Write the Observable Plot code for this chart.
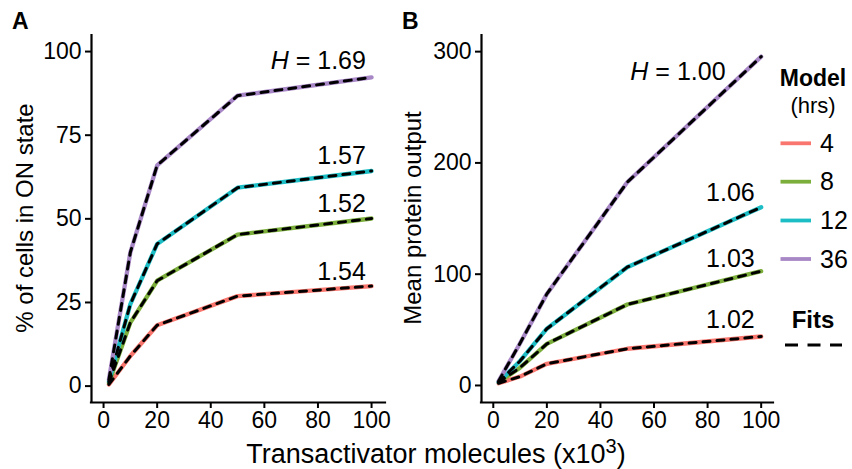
<!DOCTYPE html>
<html>
<head>
<meta charset="utf-8">
<script src="https://cdn.jsdelivr.net/npm/d3@7"></script>
<script src="https://cdn.jsdelivr.net/npm/@observablehq/plot@0.6"></script>
<style>
  html, body { margin: 0; padding: 0; background: #fff; }
  #chart { position: relative; width: 852px; height: 469px; overflow: hidden; font-family: "Liberation Sans", Arial, Helvetica, sans-serif; }
  #chart > svg, #chart > figure { position: absolute; top: 0; margin: 0; }
</style>
</head>
<body>
<div id="chart"></div>
<script>
// ---- data ----
const transactivator = [2, 10, 20, 50, 100];   // x10^3 molecules
const series = ["4", "8", "12", "36"];          // model hours
const colors = ["#F8766D", "#7CAE3C", "#1DBDC5", "#A887C6"];

// Panel A: % of cells in ON state
const onState4  = [0.5, 9, 18.2, 26.9, 29.9];
const onState8  = [1, 19, 31.5, 45.3, 50.1];
const onState12 = [1.5, 24.5, 42.5, 59.3, 64.3];
const onState36 = [2, 40, 66, 86.8, 92.3];

// Panel B: mean protein output
const protein4  = [2, 8, 19.5, 33, 44];
const protein8  = [3, 16, 37.4, 72.8, 102.7];
const protein12 = [3, 22, 51, 106.3, 160.2];
const protein36 = [4, 38, 82.3, 182.6, 295.5];

// Hill coefficients (annotations) and their anchor positions in data units
const hillA  = ["H = 1.69", "1.57", "1.52", "1.54"];
const hillAx = [97.9, 97.9, 97.9, 97.9];
const hillAy = [97.3, 68.9, 54.5, 34.1];
const hillB  = ["H = 1.00", "1.06", "1.03", "1.02"];
const hillBx = [86.7, 97.6, 97.6, 97.6];
const hillBy = [281.5, 172.8, 113.8, 59];

const xTicks  = [0, 20, 40, 60, 80, 100];
const yTicksA = [0, 25, 50, 75, 100];
const yTicksB = [0, 100, 200, 300];

// ---- build tables ----
function table(arrs) {
  const rows = [];
  arrs.forEach((vals, i) => vals.forEach((v, j) => rows.push({x: transactivator[j], y: v, series: series[i]})));
  return rows;
}
const dataA = table([onState4, onState8, onState12, onState36]);
const dataB = table([protein4, protein8, protein12, protein36]);
const annA = hillA.map((t, i) => ({text: t, x: hillAx[i], y: hillAy[i]}));
const annB = hillB.map((t, i) => ({text: t, x: hillBx[i], y: hillBy[i]}));

const FONT = '"Liberation Sans", Arial, Helvetica, sans-serif';

function panel({data, ann, width, marginLeft, marginRight, xDomain, yDomain, yTicks}) {
  const p = Plot.plot({
    width, height: 469,
    marginLeft, marginRight, marginTop: 35, marginBottom: 67,
    x: {domain: xDomain},
    y: {domain: yDomain},
    color: {domain: series, range: colors},
    style: {fontFamily: FONT, fontSize: "23px", color: "black", background: "transparent", overflow: "visible"},
    marks: [
      Plot.axisX({ticks: xTicks, tickSize: 6, tickPadding: 3, strokeWidth: 2, label: null, fontSize: 23}),
      Plot.axisY({ticks: yTicks, tickSize: 6, tickPadding: 4, strokeWidth: 2, label: null, fontSize: 23}),
      Plot.ruleX([xDomain[0]], {stroke: "black", strokeWidth: 2.2, strokeLinecap: "square"}),
      Plot.ruleY([yDomain[0]], {stroke: "black", strokeWidth: 2.2, strokeLinecap: "square"}),
      Plot.line(data, {x: "x", y: "y", z: "series", stroke: "series", strokeWidth: 4.3, strokeLinejoin: "round"}),
      Plot.line(data, {x: "x", y: "y", z: "series", stroke: "black", strokeWidth: 3, strokeDasharray: "7 7", strokeLinejoin: "round"}),
      Plot.text(ann, {x: "x", y: "y", text: "text", textAnchor: "end", fontSize: 25, fill: "black"})
    ]
  });
  // italic H in annotations
  d3.select(p).selectAll("text").each(function() {
    const t = this.textContent;
    if (t.startsWith("H = ")) {
      const sel = d3.select(this);
      sel.text(null);
      sel.append("tspan").attr("font-style", "italic").text("H");
      sel.append("tspan").text(t.slice(1));
    }
  });
  return p;
}

const chart = document.getElementById("chart");

const pA = panel({data: dataA, ann: annA, width: 420, marginLeft: 91, marginRight: 35,
  xDomain: [-4.5, 105.2], yDomain: [-4.9, 104.8], yTicks: yTicksA});
pA.style.left = "0px";
chart.appendChild(pA);

const pB = panel({data: dataB, ann: annB, width: 432, marginLeft: 61, marginRight: 79,
  xDomain: [-4.4, 104.6], yDomain: [-15.3, 314.5], yTicks: yTicksB});
pB.style.left = "420px";
chart.appendChild(pB);

// ---- overlay: titles, panel letters, legend ----
const ov = d3.select(chart).append("svg")
  .attr("width", 852).attr("height", 469)
  .style("left", "0px").style("pointer-events", "none")
  .attr("font-family", FONT).attr("fill", "black");

ov.append("text").attr("x", 12).attr("y", 29).attr("font-size", 23).attr("font-weight", "bold").text("A");
ov.append("text").attr("x", 402).attr("y", 29).attr("font-size", 23).attr("font-weight", "bold").text("B");

ov.append("text").attr("transform", "translate(33,218) rotate(-90)").attr("text-anchor", "middle")
  .attr("font-size", 24).text("% of cells in ON state");
ov.append("text").attr("transform", "translate(421,218) rotate(-90)").attr("text-anchor", "middle")
  .attr("font-size", 24).text("Mean protein output");

const xt = ov.append("text").attr("x", 436).attr("y", 463).attr("text-anchor", "middle").attr("font-size", 27);
xt.append("tspan").text("Transactivator molecules (x10");
xt.append("tspan").attr("dy", -10).attr("font-size", 20).text("3");
xt.append("tspan").attr("dy", 10).text(")");

// legend
const lg = ov.append("g");
lg.append("text").attr("x", 813).attr("y", 86).attr("text-anchor", "middle").attr("font-size", 23).attr("font-weight", "bold").text("Model");
lg.append("text").attr("x", 813).attr("y", 113).attr("text-anchor", "middle").attr("font-size", 22).text("(hrs)");
const keyY = [143.3, 181.7, 220.5, 259];
series.forEach((s, i) => {
  lg.append("line").attr("x1", 780.5).attr("x2", 811).attr("y1", keyY[i]).attr("y2", keyY[i])
    .attr("stroke", colors[i]).attr("stroke-width", 3.8);
  lg.append("text").attr("x", 820).attr("y", keyY[i] + 8.6).attr("font-size", 25).text(s);
});
lg.append("text").attr("x", 813).attr("y", 328).attr("text-anchor", "middle").attr("font-size", 24).attr("font-weight", "bold").text("Fits");
lg.append("line").attr("x1", 785).attr("x2", 842).attr("y1", 345).attr("y2", 345)
  .attr("stroke", "black").attr("stroke-width", 3).attr("stroke-dasharray", "13,9.5");
</script>
</body>
</html>
